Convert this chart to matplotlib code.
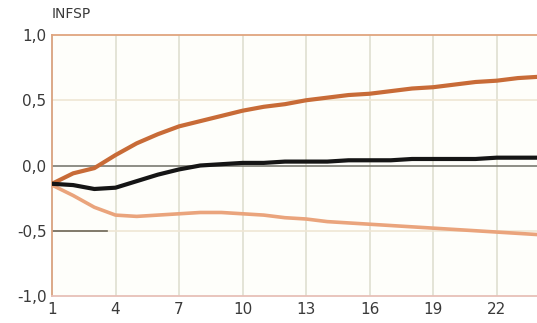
import numpy as np
import matplotlib.pyplot as plt

# horizon (periods)
periods = np.arange(1, 25)

# upper band, point estimate, lower band
upper = [-0.14, -0.06, -0.02, 0.08, 0.17, 0.24, 0.30, 0.34, 0.38, 0.42, 0.45, 0.47,
         0.50, 0.52, 0.54, 0.55, 0.57, 0.59, 0.60, 0.62, 0.64, 0.65, 0.67, 0.68]
mid = [-0.14, -0.15, -0.18, -0.17, -0.12, -0.07, -0.03, 0.00, 0.01, 0.02, 0.02, 0.03,
       0.03, 0.03, 0.04, 0.04, 0.04, 0.05, 0.05, 0.05, 0.05, 0.06, 0.06, 0.06]
lower = [-0.15, -0.23, -0.32, -0.38, -0.39, -0.38, -0.37, -0.36, -0.36, -0.37, -0.38, -0.40,
         -0.41, -0.43, -0.44, -0.45, -0.46, -0.47, -0.48, -0.49, -0.50, -0.51, -0.52, -0.53]

xticks = [1, 4, 7, 10, 13, 16, 19, 22]
yticks = [-1.0, -0.5, 0.0, 0.5, 1.0]
ylabels = ['-1,0', '-0,5', '0,0', '0,5', '1,0']

fig = plt.figure(figsize=(5.37, 3.23), dpi=100)
fig.patch.set_facecolor('white')
ax = fig.add_axes([0.0968, 0.0836, 0.9032, 0.808])
ax.set_facecolor('#fefefa')

ax.set_xlim(1, 23.9)
ax.set_ylim(-1.0, 1.0)

for xv in xticks[1:]:
	ax.axvline(xv, color='#dfdfd0', lw=1.2, zorder=1)
for yv in [-0.5, 0.5]:
	ax.axhline(yv, color='#efe6d4', lw=1.2, zorder=1)
ax.axhline(0.0, color='#7a7a72', lw=1.2, zorder=2)
ax.plot([1, 3.6], [-0.5, -0.5], color='#6e6658', lw=1.2, zorder=2)

ax.plot(periods, lower, color='#eaa47c', lw=2.6, zorder=3, solid_capstyle='round', solid_joinstyle='round')
ax.plot(periods, upper, color='#c86b37', lw=3.0, zorder=4, solid_capstyle='round', solid_joinstyle='round')
ax.plot(periods, mid, color='#151515', lw=3.0, zorder=5, solid_capstyle='round', solid_joinstyle='round')

ax.set_xticks(xticks)
ax.set_xticklabels([str(v) for v in xticks])
ax.set_yticks(yticks)
ax.set_yticklabels(ylabels)
ax.tick_params(length=0, labelsize=11, labelcolor='#3a3a3a', pad=4)

ax.spines['left'].set_color('#d9a27e')
ax.spines['top'].set_color('#e0a57f')
ax.spines['bottom'].set_color('#e7c0b8')
ax.spines['right'].set_visible(False)
for s in ['left', 'top', 'bottom']:
	ax.spines[s].set_linewidth(1.3)

fig.text(0.097, 0.935, 'INFSP', fontsize=10, color='#3a3a3a', ha='left', va='bottom')

fig.savefig('out.png', dpi=100)
